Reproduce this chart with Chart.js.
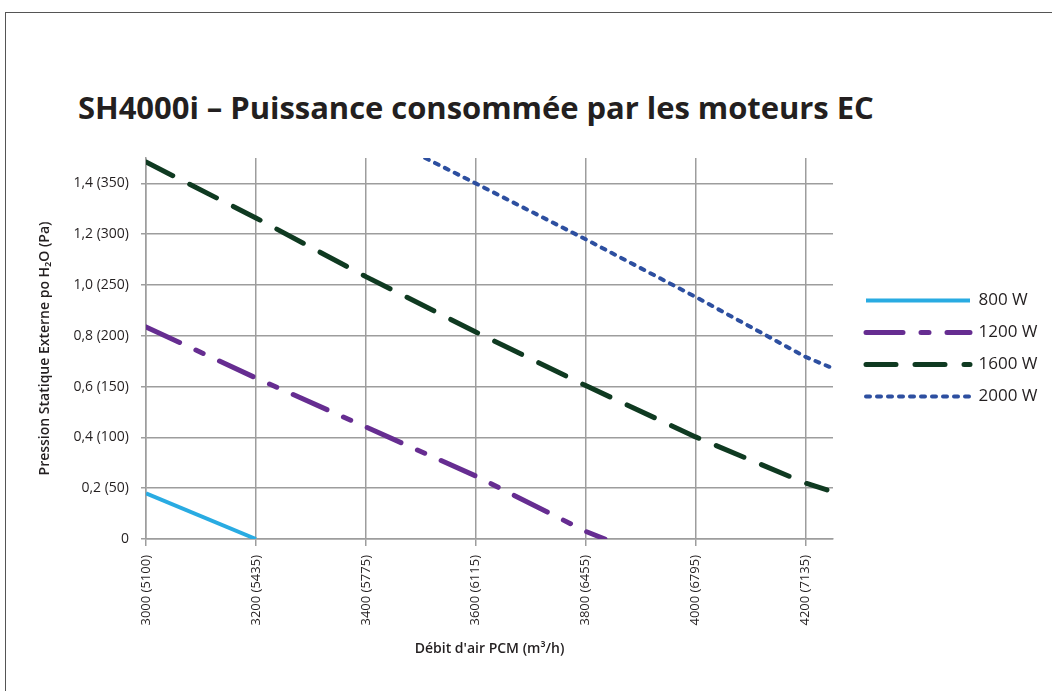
<!DOCTYPE html>
<html>
<head>
<meta charset="utf-8">
<script src="https://cdn.jsdelivr.net/npm/chart.js@4.4.1/dist/chart.umd.min.js"></script>
<style>
html,body{margin:0;padding:0;background:#fff;}
#wrap{position:relative;width:1052px;height:691px;overflow:hidden;background:#fff;}
#frame{position:absolute;left:5px;top:12px;width:1200px;height:900px;border-left:1px solid #555;border-top:1px solid #555;}
#title{position:absolute;left:78px;top:92px;font-family:'Open Sans',sans-serif;font-weight:700;font-size:31px;line-height:31px;color:#231f20;white-space:nowrap;letter-spacing:-0.05px;}
canvas{position:absolute;left:0;top:0;}
</style>
</head>
<body>
<div id="wrap">
  <div id="frame"></div>
  <div id="title">SH4000i – Puissance consommée par les moteurs EC</div>
  <canvas id="c" width="1052" height="691"></canvas>
</div>
<script>
// ---- data ----
const seriesNames = ['800 W', '1200 W', '1600 W', '2000 W'];
const x800  = [3000, 3200];
const y800  = [0.18, 0.0];
const x1200 = [3000, 3200, 3400, 3600, 3800, 3835];
const y1200 = [0.835, 0.634, 0.441, 0.248, 0.03, 0.0];
const x1600 = [3000, 3200, 3400, 3600, 3800, 4000, 4200, 4239];
const y1600 = [1.484, 1.264, 1.033, 0.815, 0.604, 0.402, 0.22, 0.193];
const x2000 = [3508, 3600, 3800, 4000, 4200, 4250];
const y2000 = [1.5, 1.40, 1.18, 0.953, 0.717, 0.672];

const xTickValues = [3000, 3200, 3400, 3600, 3800, 4000, 4200];
const xTickLabels = ['3000 (5100)', '3200 (5435)', '3400 (5775)', '3600 (6115)', '3800 (6455)', '4000 (6795)', '4200 (7135)'];
const yTickValues = [0, 0.2, 0.4, 0.6, 0.8, 1.0, 1.2, 1.4];
const yTickLabels = ['0', '0,2 (50)', '0,4 (100)', '0,6 (150)', '0,8 (200)', '1,0 (250)', '1,2 (300)', '1,4 (350)'];

const xTitle = "Débit d'air PCM (m³/h)";
const yTitle = 'Pression Statique Externe po H₂O (Pa)';

// ---- styles ----
const colors = ['#29abe2', '#662d91', '#0f3a21', '#2d4fa0'];
const widths = [4, 5, 5, 4];
const dashes = [[], [37, 18, 8, 18], [30, 19], [4, 7]];
const caps = ['butt', 'round', 'round', 'round'];
const gridColor = '#9d9d9d';
const textColor = '#231f20';
const FONT = "'Open Sans', sans-serif";

const pts = (xs, ys) => xs.map((x, i) => ({x: x, y: ys[i]}));
const seriesX = [x800, x1200, x1600, x2000];
const seriesY = [y800, y1200, y1600, y2000];

const datasets = seriesNames.map((name, i) => ({
  label: name,
  data: pts(seriesX[i], seriesY[i]),
  borderColor: colors[i],
  backgroundColor: colors[i],
  borderWidth: widths[i],
  borderDash: dashes[i],
  borderCapStyle: caps[i],
  borderJoinStyle: 'round',
  pointRadius: 0,
  pointHoverRadius: 0,
  tension: 0,
  fill: false
}));

// legend geometry
const legendFont = 17, legendPad = 15, legendLine = 104, gapAxis = 18;
const mctx = document.createElement('canvas').getContext('2d');
mctx.font = legendFont + "px 'Open Sans'";
const maxText = Math.max(...seriesNames.map(s => mctx.measureText(s).width));
const legendW = legendPad + legendLine + legendFont / 2 + maxText + 10;
const areaRight = 833;
const padRight = Math.max(0, 1052 - areaRight - gapAxis - legendW);

new Chart(document.getElementById('c'), {
  type: 'line',
  data: { datasets: datasets },
  options: {
    responsive: false,
    animation: false,
    devicePixelRatio: 1,
    layout: { padding: { top: 158, left: 37, right: padRight, bottom: 0 } },
    plugins: {
      title: { display: false },
      tooltip: { enabled: false },
      legend: {
        position: 'right',
        fullSize: false,
        align: 'center',
        maxWidth: 400,
        labels: {
          usePointStyle: true,
          pointStyle: 'line',
          pointStyleWidth: legendLine,
          padding: legendPad,
          color: textColor,
          font: { family: FONT, size: legendFont },
          generateLabels: (chart) => {
            const items = Chart.defaults.plugins.legend.labels.generateLabels(chart);
            items.forEach((it) => {
              const ds = chart.data.datasets[it.datasetIndex];
              it.lineDash = ds.borderDash;
              it.lineCap = ds.borderCapStyle;
              it.lineWidth = ds.borderWidth;
              it.strokeStyle = ds.borderColor;
              it.pointStyle = 'line';
              it.rotation = 180;
            });
            return items;
          }
        }
      }
    },
    scales: {
      x: {
        type: 'linear',
        min: 3000,
        max: 4250,
        afterBuildTicks: (axis) => { axis.ticks = xTickValues.map(v => ({value: v})); },
        afterFit: (s) => { s.height = 152; },
        grid: { color: gridColor, lineWidth: 1.5, tickLength: 7, tickColor: gridColor, drawTicks: true },
        border: { color: gridColor, width: 1.5 },
        ticks: {
          autoSkip: false,
          minRotation: 90,
          maxRotation: 90,
          padding: 9,
          color: textColor,
          font: { family: FONT, size: 13 },
          callback: (v, i) => xTickLabels[i]
        },
        title: {
          display: true,
          text: xTitle,
          color: textColor,
          font: { family: FONT, size: 14, weight: '600' },
          padding: { top: 0, bottom: 34 }
        }
      },
      y: {
        type: 'linear',
        min: 0,
        max: 1.5,
        afterBuildTicks: (axis) => { axis.ticks = yTickValues.map(v => ({value: v})); },
        afterFit: (s) => { s.width = 109; },
        grid: { color: gridColor, lineWidth: 1.5, tickLength: 5, tickColor: gridColor, drawTicks: true },
        border: { color: gridColor, width: 1.5 },
        ticks: {
          padding: 12,
          color: textColor,
          font: { family: FONT, size: 14 },
          callback: (v, i) => yTickLabels[i]
        },
        title: {
          display: true,
          text: yTitle,
          color: textColor,
          font: { family: FONT, size: 14, weight: '600' },
          padding: { top: 0, bottom: 0 }
        }
      },
      gap: {
        type: 'linear',
        position: 'right',
        display: true,
        afterFit: (s) => { s.width = gapAxis; },
        grid: { display: false, drawTicks: false },
        border: { display: false },
        ticks: { display: false }
      }
    }
  }
});
</script>
</body>
</html>
